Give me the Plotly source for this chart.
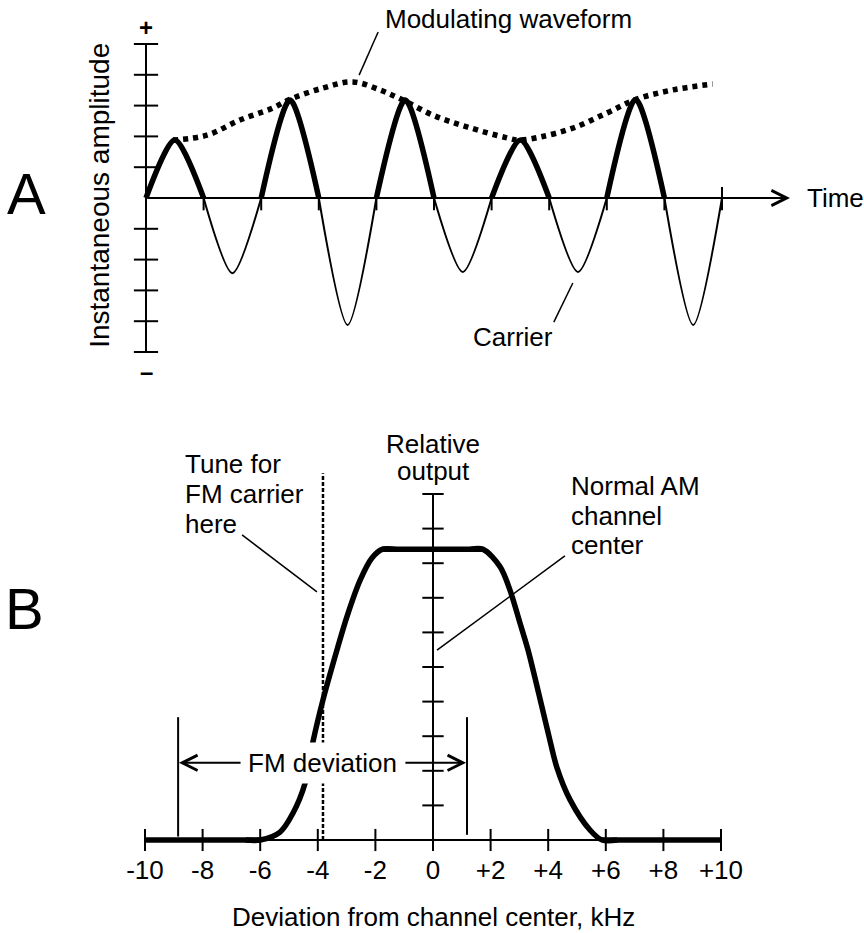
import plotly.graph_objects as go

# ---------------- Panel A data ----------------
crossings = list(range(11))                       # carrier zero crossings (half-cycle units)
half_cycle_peaks = [1.88, -2.44, 3.18, -4.12, 3.18, -2.40, 1.88, -2.40, 3.20, -4.12]
env_t = [0.47, 1.06, 1.63, 2.20, 2.47, 3.07, 3.59, 4.06, 4.46, 4.98, 5.57, 6.27, 6.46,
         6.84, 7.41, 8.00, 8.52, 9.15, 9.84]
env_a = [1.88, 2.04, 2.53, 2.92, 3.18, 3.57, 3.77, 3.51, 3.18, 2.69, 2.31, 1.95, 1.88,
         1.98, 2.27, 2.76, 3.21, 3.51, 3.70]
amp_ticks = [-5, -4, -3, -2, -1, 1, 2, 3, 4, 5]
time_end = 11.18

# ---------------- Panel B data ----------------
rise_khz = [-6.5, -6.0, -5.31, -4.86, -4.44, -4.17, -3.82, -3.47, -2.99, -2.53, -2.12, -1.77, -1.3]
rise_rel = [0, 0, 0.23, 0.78, 1.65, 2.83, 4.05, 5.10, 6.45, 7.51, 8.15, 8.40, 8.40]
fall_khz = [1.3, 1.74, 2.33, 2.67, 3.02, 3.30, 4.00, 4.30, 4.76, 5.45, 5.87, 6.4]
fall_rel = [8.40, 8.40, 7.90, 7.23, 6.27, 5.49, 3.09, 2.10, 1.16, 0.29, 0, 0]
flat_low_khz = [-10, -6.0]
flat_top_khz = [-1.77, 1.74]
flat_high_khz = [5.87, 10]
plateau = 8.40
x_ticks = [-10, -8, -6, -4, -2, 0, 2, 4, 6, 8, 10]
x_tick_labels = ["-10", "-8", "-6", "-4", "-2", "0", "+2", "+4", "+6", "+8", "+10"]
y_ticks = [1, 2, 3, 4, 5, 6, 7, 8, 9, 10]
tune_khz = -3.82
tune_top = 10.6
dev_low, dev_high = -8.85, 1.18
dev_top = 3.55

tune_lines = ["Tune for", "FM carrier", "here"]
tune_line_y = [10.87, 10.0, 9.13]
am_lines = ["Normal AM", "channel", "center"]
am_line_y = [10.23, 9.36, 8.53]
rel_lines = ["Relative", "output"]
rel_line_y = [11.45, 10.66]

FONT = "Liberation Sans, Arial, Helvetica, sans-serif"
FS = 26
BLACK = "black"

fig = go.Figure()

def seg_trace(xs, ys, width, xa, ya, dash=None, shape="linear", smoothing=1.0):
    line = dict(color=BLACK, width=width, dash=dash, shape=shape)
    if shape == "spline":
        line["smoothing"] = smoothing
    fig.add_trace(go.Scatter(x=xs, y=ys, mode="lines", xaxis=xa, yaxis=ya, line=line,
                             hoverinfo="skip", showlegend=False, connectgaps=False))

# ---- Panel A ----
pos_x, pos_y, neg_x, neg_y = [], [], [], []
for k, p in enumerate(half_cycle_peaks):
    t0, t1 = crossings[k], crossings[k + 1]
    xs = [t0, (t0 + t1) / 2, t1, None]
    ys = [0, p, 0, None]
    if p > 0:
        pos_x += xs; pos_y += ys
    else:
        neg_x += xs; neg_y += ys

seg_trace(neg_x, neg_y, 2, "x", "y", shape="spline", smoothing=0.75)
seg_trace([0, 0], [amp_ticks[0], amp_ticks[-1]], 2, "x", "y")
tx, ty = [], []
for a in amp_ticks:
    tx += [-0.21, 0.21, None]; ty += [a, a, None]
seg_trace(tx, ty, 2, "x", "y")
cx, cy = [], []
for c in crossings[1:]:
    cx += [c, c, None]; cy += [0.0 if c < crossings[-1] else 0.36, -0.4, None]
seg_trace(cx, cy, 2, "x", "y")
seg_trace(pos_x, pos_y, 5.5, "x", "y", shape="spline", smoothing=0.75)
seg_trace(env_t, env_a, 5.5, "x", "y", dash="5px,5px", shape="spline")
seg_trace([4.03, 3.70], [5.39, 3.99], 1.5, "x", "y")
seg_trace([7.08, 7.41], [-4.03, -2.76], 1.5, "x", "y")

# ---- Panel B ----
seg_trace([x_ticks[0], x_ticks[-1]], [0, 0], 2, "x2", "y2")
tx, ty = [], []
for v in x_ticks:
    tx += [v, v, None]; ty += [0.32, -0.32, None]
seg_trace(tx, ty, 2, "x2", "y2")
seg_trace([0, 0], [0, y_ticks[-1]], 2, "x2", "y2")
tx, ty = [], []
for v in y_ticks:
    tx += [-0.37, 0.37, None]; ty += [v, v, None]
seg_trace(tx, ty, 2, "x2", "y2")
seg_trace([tune_khz, tune_khz], [0, tune_top], 2.5, "x2", "y2", dash="4px,2px")
seg_trace([dev_low, dev_low, None, dev_high, dev_high], [dev_top, 0.1, None, dev_top, 0.15], 2, "x2", "y2")
seg_trace(flat_low_khz, [0, 0], 5.5, "x2", "y2")
seg_trace(rise_khz, rise_rel, 5.5, "x2", "y2", shape="spline", smoothing=0.9)
seg_trace(flat_top_khz, [plateau, plateau], 5.5, "x2", "y2")
seg_trace(fall_khz, fall_rel, 5.5, "x2", "y2", shape="spline", smoothing=0.9)
seg_trace(flat_high_khz, [0, 0], 5.5, "x2", "y2")
seg_trace([-6.63, -4.03], [8.82, 7.17], 1.5, "x2", "y2")
seg_trace([4.58, 0.14], [8.21, 5.49], 1.5, "x2", "y2")

fig.add_trace(go.Scatter(x=x_ticks, y=[-0.95] * len(x_ticks), text=x_tick_labels, mode="text",
                         xaxis="x2", yaxis="y2", textfont=dict(family=FONT, size=FS, color=BLACK),
                         hoverinfo="skip", showlegend=False, cliponaxis=False))

ann = []
def txt(x, y, s, xref, yref, **kw):
    d = dict(x=x, y=y, text=s, xref=xref, yref=yref, showarrow=False,
             font=dict(family=FONT, size=kw.pop("size", FS), color=BLACK))
    d.update(kw)
    ann.append(d)

txt(-2.08, 0.16, "A", "x", "y", size=58)
txt(-14.17, 6.7, "B", "x2", "y2", size=58)
txt(0, 5.55, "<b>+</b>", "x", "y", size=24)
txt(0, -5.62, "<b>–</b>", "x", "y", size=24)
txt(-0.80, 0.1, "Instantaneous amplitude", "x", "y", textangle=-90, size=28)
txt(4.11, 5.81, "Modulating waveform", "x", "y", xanchor="left")
txt(6.37, -4.5, "Carrier", "x", "y")
txt(11.44, 0, "Time", "x", "y", xanchor="left")
for s, yv in zip(rel_lines, rel_line_y):
    txt(0, yv, s, "x2", "y2")
for s, yv in zip(tune_lines, tune_line_y):
    txt(-8.68, yv, s, "x2", "y2", xanchor="left")
for s, yv in zip(am_lines, am_line_y):
    txt(4.72, yv, s, "x2", "y2", xanchor="left")
txt(0, -2.22, "Deviation from channel center, kHz", "x2", "y2")
txt(-3.83, 2.23, "FM deviation", "x2", "y2", bgcolor="white", borderpad=5)

def arrow(x_head, y_head, x_tail, y_tail, xref, yref):
    ann.append(dict(x=x_head, y=y_head, ax=x_tail, ay=y_tail, xref=xref, yref=yref,
                    axref=xref, ayref=yref, text="", showarrow=True, arrowhead=5,
                    arrowwidth=2, arrowsize=1.5, arrowcolor=BLACK, font=dict(size=1)))

arrow(time_end, 0, 0, 0, "x", "y")
arrow(dev_low + 0.03, 2.23, -6.63, 2.23, "x2", "y2")
arrow(dev_high - 0.03, 2.23, -1.01, 2.23, "x2", "y2")

W, H = 864, 933
splitA = 400
ax_common = dict(visible=False, showgrid=False, zeroline=False, fixedrange=True)
fig.update_layout(
    width=W, height=H, margin=dict(l=0, r=0, t=0, b=0),
    paper_bgcolor="white", plot_bgcolor="white", showlegend=False,
    xaxis=dict(domain=[0, 1], range=[-146 / 57.6, (W - 146) / 57.6], anchor="y", **ax_common),
    yaxis=dict(domain=[1 - splitA / H, 1], range=[(198 - splitA) / 30.8, 198 / 30.8], anchor="x", **ax_common),
    xaxis2=dict(domain=[0, 1], range=[-433 / 28.8, (W - 433) / 28.8], anchor="y2", **ax_common),
    yaxis2=dict(domain=[0, 1 - splitA / H], range=[(840 - H) / 34.6, (840 - splitA) / 34.6], anchor="x2", **ax_common),
    annotations=ann,
)

fig.write_html("out.html", config={"displayModeBar": False},
               post_script="document.body.style.margin='0';document.body.style.overflow='hidden';")
